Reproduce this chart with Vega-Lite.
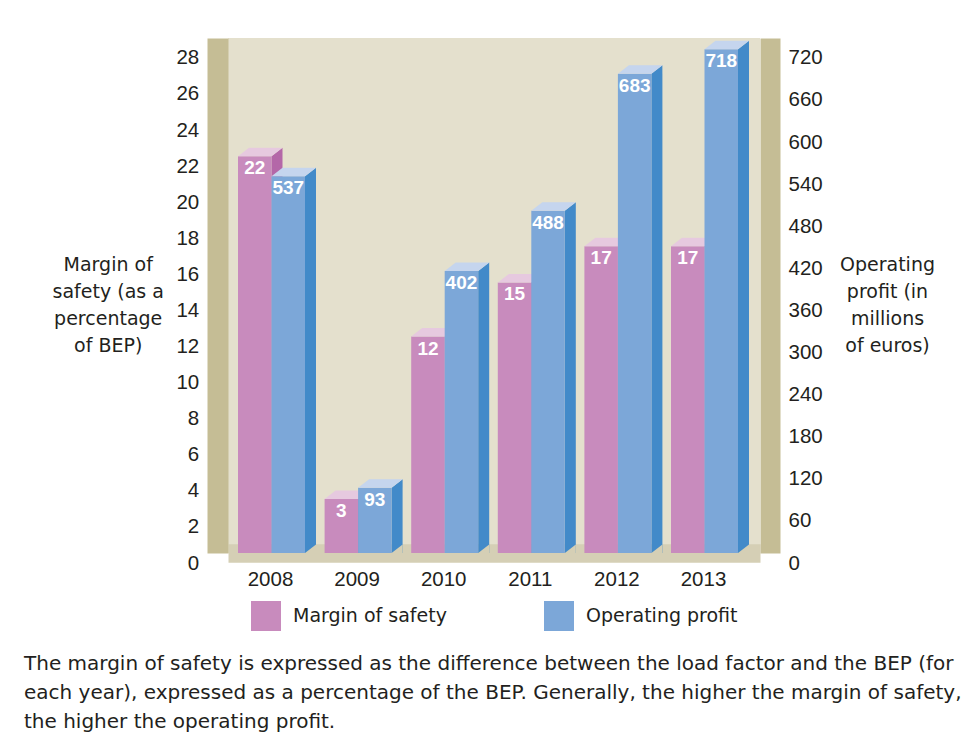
{
  "$schema": "https://vega.github.io/schema/vega-lite/v6.json",
  "autosize": {"type": "none"},
  "width": 532,
  "height": 515,
  "padding": {"left": 228, "top": 38, "right": 208, "bottom": 194},
  "background": "#ffffff",
  "config": {
    "view": {"stroke": null, "fill": "#e4e0cd"},
    "font": "DejaVu Sans"
  },
  "title": {
    "text": [
      "The margin of safety is expressed as the difference between the load factor and the BEP (for",
      "each year), expressed as a percentage of the BEP. Generally, the higher the margin of safety,",
      "the higher the operating profit."
    ],
    "orient": "bottom",
    "anchor": "start",
    "frame": "group",
    "align": "left",
    "dx": -204,
    "offset": 23,
    "font": "DejaVu Sans",
    "fontSize": 20,
    "fontWeight": "normal",
    "lineHeight": 29,
    "color": "#231f20"
  },
  "data": {
    "values": [
      {"year": "2008", "series": "Margin of safety", "value": 22},
      {"year": "2009", "series": "Margin of safety", "value": 3},
      {"year": "2010", "series": "Margin of safety", "value": 12},
      {"year": "2011", "series": "Margin of safety", "value": 15},
      {"year": "2012", "series": "Margin of safety", "value": 17},
      {"year": "2013", "series": "Margin of safety", "value": 17},
      {"year": "2008", "series": "Operating profit", "value": 537},
      {"year": "2009", "series": "Operating profit", "value": 93},
      {"year": "2010", "series": "Operating profit", "value": 402},
      {"year": "2011", "series": "Operating profit", "value": 488},
      {"year": "2012", "series": "Operating profit", "value": 683},
      {"year": "2013", "series": "Operating profit", "value": 718}
    ]
  },
  "layer": [
    {
      "transform": [{"filter": "datum.series === 'Margin of safety'"}],
      "encoding": {
        "x": {
          "field": "year", "type": "nominal",
          "scale": {"paddingInner": 0.2263, "paddingOuter": 0.1847, "align": 0.3125},
          "axis": {
            "title": null, "orient": "bottom", "offset": 0,
            "domainWidth": 18.5, "domainColor": "#d5cfb5",
            "ticks": false, "labelAngle": 0, "labelPadding": 16.5, "labelOffset": -1,
            "labelBaseline": "top", "labelFont": "Liberation Sans", "labelFontSize": 20.5,
            "labelColor": "#231f20"
          }
        },
        "xOffset": {
          "field": "series", "type": "nominal",
          "scale": {"domain": ["Margin of safety", "Operating profit"], "paddingInner": 0, "paddingOuter": 0}
        },
        "y": {
          "field": "value", "type": "quantitative",
          "scale": {"domain": [0, 28.55], "nice": false, "zero": true},
          "axis": {
            "orient": "left", "offset": 10.5, "grid": false, "ticks": false,
            "values": [0, 2, 4, 6, 8, 10, 12, 14, 16, 18, 20, 22, 24, 26, 28],
            "domainWidth": 21, "domainColor": "#c5bd95",
            "labelPadding": 18.8, "labelOffset": 10,
            "labelFont": "Liberation Sans", "labelFontSize": 20.5, "labelColor": "#231f20",
            "title": ["Margin of", "safety (as a", "percentage", "of BEP)"],
            "titleAngle": 0, "titleAlign": "center", "titleBaseline": "alphabetic",
            "titleX": -109.8, "titleY": 232.7, "titleLineHeight": 27,
            "titleFont": "DejaVu Sans", "titleFontSize": 19, "titleFontWeight": "normal",
            "titleColor": "#231f20"
          }
        }
      },
      "layer": [
        {"mark": {"type": "point", "shape": "M16.75,0L27.75,-8.5L27.75,1000L16.75,1000Z", "size": 4, "filled": true, "opacity": 1, "strokeWidth": 0, "clip": true, "color": "#b467a8"}},
        {
          "mark": {"type": "bar"},
          "encoding": {
            "color": {
              "field": "series", "type": "nominal",
              "scale": {"domain": ["Margin of safety", "Operating profit"], "range": ["#c88bbd", "#7ca7d8"]},
              "legend": {
                "title": null, "orient": "none", "legendX": 23, "legendY": 563,
                "direction": "horizontal", "symbolType": "square", "symbolSize": 900,
                "symbolStrokeWidth": 0, "symbolOpacity": 1, "labelOffset": 12,
                "columnPadding": 97, "padding": 0, "labelFont": "DejaVu Sans",
                "labelFontSize": 19, "labelColor": "#231f20", "labelLimit": 400
              }
            }
          }
        },
        {"mark": {"type": "point", "shape": "M-16.75,0L16.75,0L27.75,-8.5L-5.75,-8.5Z", "size": 4, "filled": true, "opacity": 1, "strokeWidth": 0, "color": "#e6c9df"}},
        {
          "mark": {"type": "text", "color": "#ffffff", "font": "Liberation Sans", "fontWeight": "bold", "fontSize": 19, "baseline": "alphabetic", "dy": 18},
          "encoding": {"text": {"field": "value", "type": "quantitative"}}
        }
      ]
    },
    {
      "transform": [{"filter": "datum.series === 'Operating profit'"}],
      "encoding": {
        "x": {"field": "year", "type": "nominal"},
        "xOffset": {"field": "series", "type": "nominal"},
        "y": {
          "field": "value", "type": "quantitative",
          "scale": {"domain": [0, 734.1], "nice": false, "zero": true},
          "axis": {
            "orient": "right", "offset": 10, "grid": false, "ticks": false,
            "values": [0, 60, 120, 180, 240, 300, 360, 420, 480, 540, 600, 660, 720],
            "domainWidth": 20, "domainColor": "#c5bd95",
            "labelPadding": 18, "labelOffset": 10,
            "labelFont": "Liberation Sans", "labelFontSize": 20.5, "labelColor": "#231f20",
            "title": ["Operating", "profit (in", "millions", "of euros)"],
            "titleAngle": 0, "titleAlign": "center", "titleBaseline": "alphabetic",
            "titleX": 117, "titleY": 232.7, "titleLineHeight": 27,
            "titleFont": "DejaVu Sans", "titleFontSize": 19, "titleFontWeight": "normal",
            "titleColor": "#231f20"
          }
        }
      },
      "layer": [
        {"mark": {"type": "point", "shape": "M16.75,0L27.75,-8.5L27.75,1000L16.75,1000Z", "size": 4, "filled": true, "opacity": 1, "strokeWidth": 0, "clip": true, "color": "#428ac9"}},
        {
          "mark": {"type": "point", "shape": "M16.75,0L27.75,0L27.75,-8.5Z", "size": 4, "filled": true, "opacity": 1, "strokeWidth": 0, "color": "#d5cfb5"},
          "encoding": {"y": {"datum": 0}}
        },
        {
          "mark": {"type": "bar"},
          "encoding": {"color": {"field": "series", "type": "nominal"}}
        },
        {"mark": {"type": "point", "shape": "M-16.75,0L16.75,0L27.75,-8.5L-5.75,-8.5Z", "size": 4, "filled": true, "opacity": 1, "strokeWidth": 0, "color": "#c5d5ee"}},
        {
          "mark": {"type": "text", "color": "#ffffff", "font": "Liberation Sans", "fontWeight": "bold", "fontSize": 19, "baseline": "alphabetic", "dy": 18},
          "encoding": {"text": {"field": "value", "type": "quantitative"}}
        }
      ]
    }
  ],
  "resolve": {"scale": {"y": "independent"}}
}
